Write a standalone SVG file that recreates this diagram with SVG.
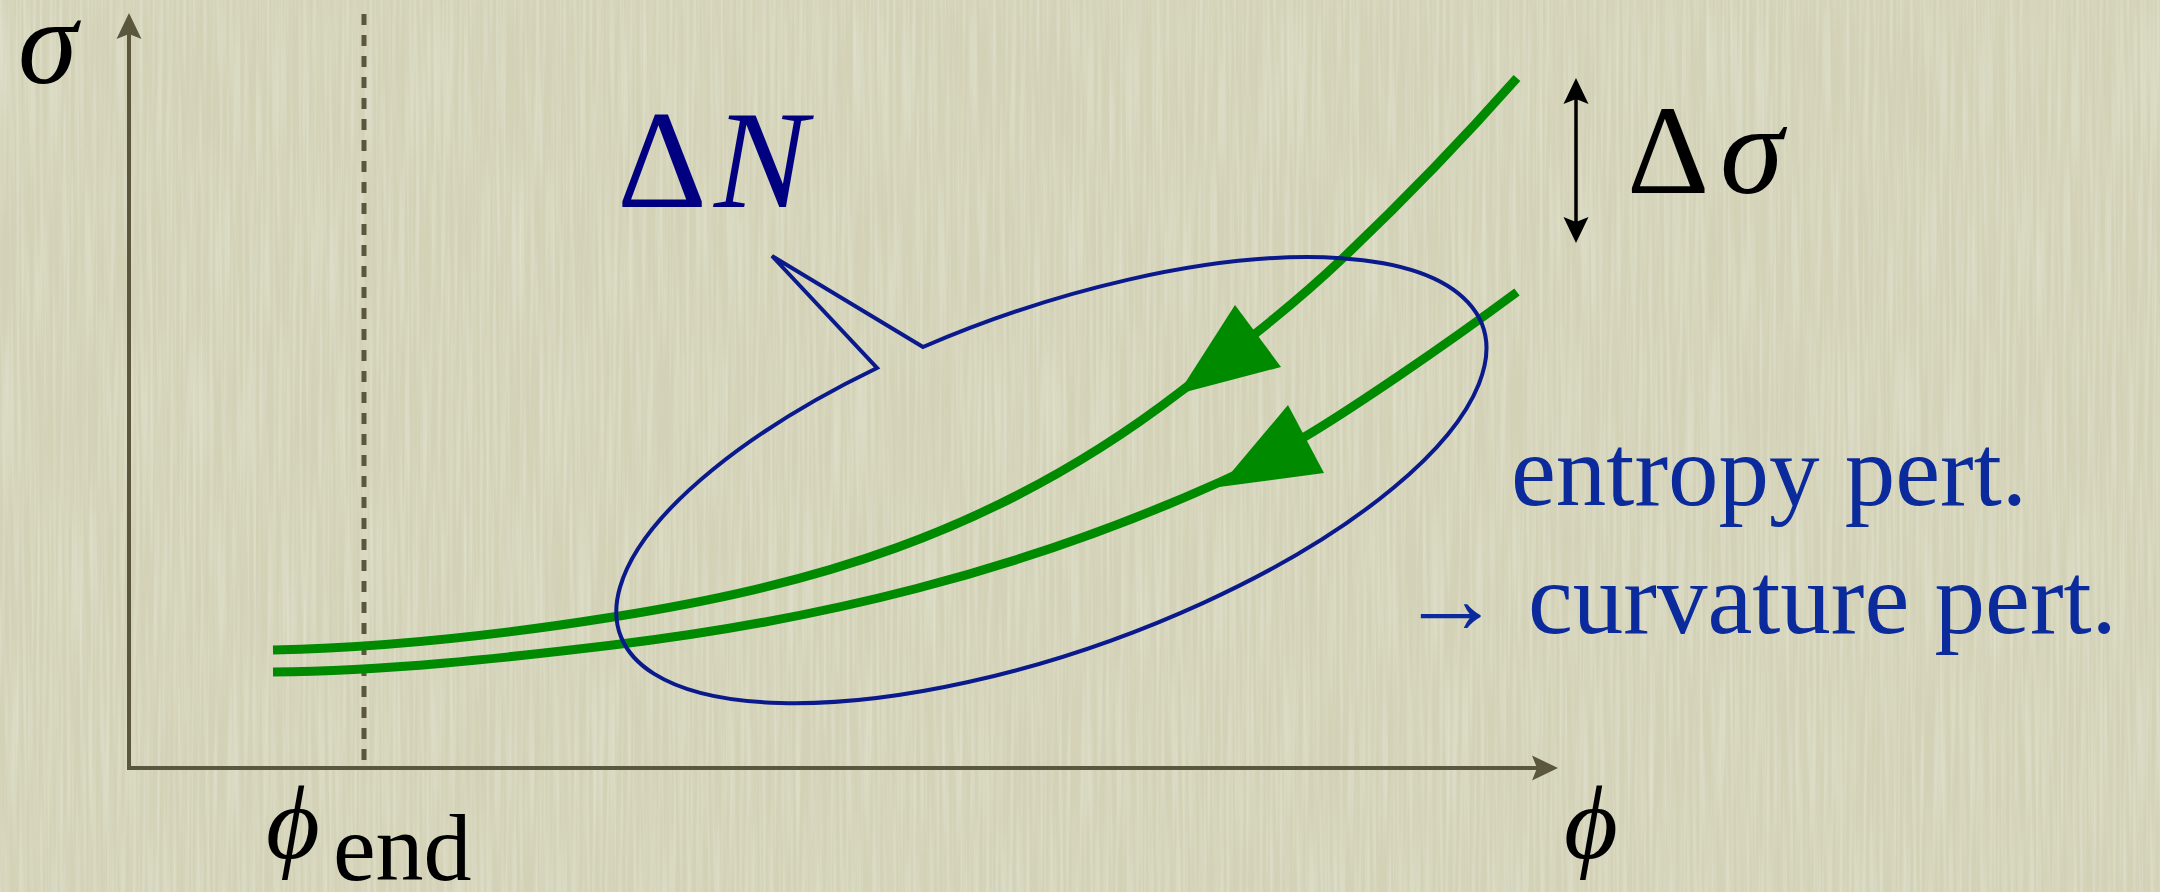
<svg xmlns="http://www.w3.org/2000/svg" width="2160" height="892" viewBox="0 0 2160 892">
<defs>
<filter id="paper" x="0" y="0" width="100%" height="100%" filterUnits="userSpaceOnUse">
<feTurbulence type="fractalNoise" baseFrequency="0.3 0.006" numOctaves="2" seed="5" result="n"/>
<feColorMatrix in="n" type="matrix" values="0 0 0 0 0.9  0 0 0 0 0.9  0 0 0 0 0.83  0.7 0 0 0 -0.25"/>
</filter>
<style>
.axis{stroke:#5b573f;stroke-width:4;fill:none}
.axhead{fill:#5b573f}
.curve{stroke:#008a00;stroke-width:9;fill:none}
.ghead{fill:#008a00}
.blue{stroke:#0a1a8c;stroke-width:4;fill:none;stroke-linejoin:miter}
.math{font-family:"Liberation Serif","DejaVu Serif",serif}
.it{font-style:italic}
.lbl{font-family:"Liberation Serif","DejaVu Serif",serif;fill:#0b2a9c;font-size:101px}
</style>
</defs>
<rect width="2160" height="892" fill="#d3d2b7"/>
<rect width="2160" height="892" filter="url(#paper)"/>

<g id="connectors">
<g id="axes">
<line class="axis" x1="129" y1="770" x2="129" y2="30"/>
<path class="axhead" d="M129,13 L116.5,39 L129,34 L141.5,39 Z"/>
<line class="axis" x1="127" y1="768" x2="1540" y2="768"/>
<path class="axhead" d="M1558,768 L1532,755.5 L1537,768 L1532,780.5 Z"/>
<line x1="364" y1="14" x2="364" y2="766" stroke="#5b573f" stroke-width="5" stroke-dasharray="11 10"/>
</g>
<g id="trajectories">
<path class="curve" d="M273,650 C386.3,647.7 499.7,635.1 613,617 C802,586.8 991,537.5 1180,392 C1234.3,350.2 1288.7,309.6 1343,258 C1401,202.9 1459,143.5 1517,78"/>
<path class="ghead" d="M1235,305 L1281,367 L1178,394 Z"/>
<path class="curve" d="M273,672 C386.3,670.9 499.7,658.6 613,645 C815.3,620.7 1017.7,573 1220,482 C1280,455 1340,415.8 1400,375 C1439,348.5 1478,320.9 1517,292"/>
<path class="ghead" d="M1288,405 L1324,473 L1219,487 Z"/>
</g>
<g id="delta-sigma-arrow">
<line x1="1576" y1="95" x2="1576" y2="226" stroke="#000" stroke-width="3.5"/>
<path d="M1576,78 L1563.5,104 L1576,99 L1588.5,104 Z" fill="#000"/>
<path d="M1576,243 L1563.5,217 L1576,222 L1588.5,217 Z" fill="#000"/>
</g>
</g>

<g id="callout">
<path class="blue" d="M772,256 L923,347 A458 171 -19.7 1 1 877,368 Z"/>
<text class="math" x="617" y="207" font-size="140" fill="#000080">Δ<tspan class="it" x="714">N</tspan></text>
</g>

<g id="label-sigma"><text class="math it" x="18" y="83" font-size="120" fill="#000">σ</text></g>
<g id="label-dsigma"><text class="math" x="1627" y="193" font-size="128" fill="#000">Δ<tspan class="it" x="1720">σ</tspan></text></g>
<g id="label-phiend"><text class="math" x="266" y="858" font-size="104" fill="#000"><tspan class="it">ϕ</tspan><tspan x="333" y="880" font-size="96">end</tspan></text></g>
<g id="label-phi"><text class="math it" x="1564" y="858" font-size="104" fill="#000">ϕ</text></g>
<g id="label-entropy">
<text class="lbl" x="1511" y="505">entropy pert.</text>
<text class="lbl" x="1400" y="633">→<tspan x="1528">curvature pert.</tspan></text>
</g>
</svg>
